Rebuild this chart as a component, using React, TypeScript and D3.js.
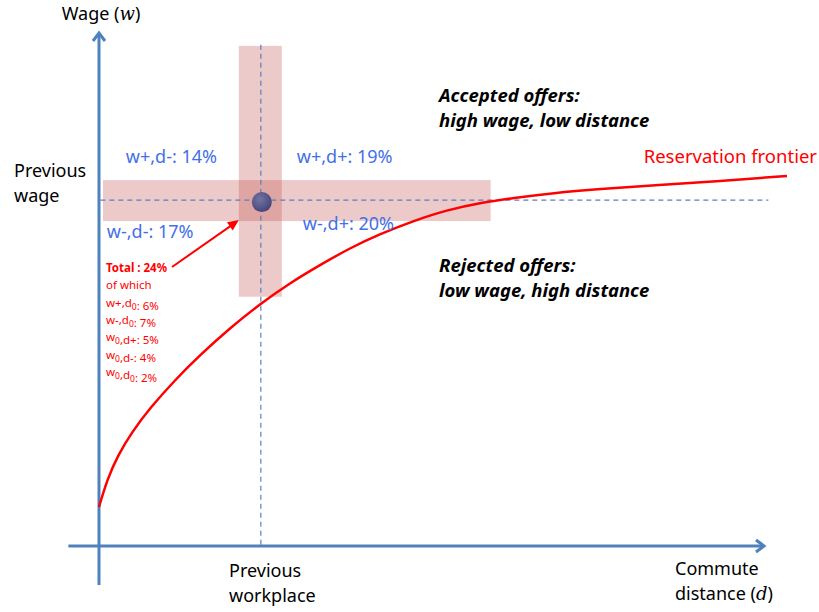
import React, { useRef, useEffect } from "react"
import * as d3 from "d3"

// Reservation frontier as (distance, wage) in 0..100 units
const frontierD = [0, 1.2, 2.85, 4.95, 7.66, 11.41, 15.17, 19.67, 24.17, 28.68, 33.18, 37.69, 42.19, 47.15, 52.25, 57.21, 62.16, 68.17, 75.23, 83.18, 93.24, 103.3]
const frontierW = [7.59, 12.84, 17.7, 22.18, 26.85, 32.3, 37.16, 42.41, 47.08, 51.17, 54.67, 57.98, 60.7, 63.23, 65.37, 66.73, 67.7, 68.68, 69.46, 70.14, 71.01, 71.98]

// Previous job position
const prevDistance = 24.3
const prevWage = 67.3

// Shares of offers around the previous job
const quadrantLabels = ["w+,d-: 14%", "w+,d+: 19%", "w-,d-: 17%", "w-,d+: 20%"]

// Breakdown of the "no change" offers: [w part, w subscript, d part, d subscript, share]
const breakdownTotal = "Total : 24%"
const breakdownRows: [string, string, string, string, string][] = [
  ["w+", "", "d", "0", ": 6%"],
  ["w-", "", "d", "0", ": 7%"],
  ["w", "0", "d+", "", ": 5%"],
  ["w", "0", "d-", "", ": 4%"],
  ["w", "0", "d", "0", ": 2%"],
]

const AXIS_BLUE = "#4f81bd"
const LABEL_BLUE = "#4470e6"
const RED = "#ff0000"
const FONT = "'Noto Sans', sans-serif"

const App: React.FC = () => {
  const svgRef = useRef<SVGSVGElement | null>(null)
  const width = 819
  const height = 612

  useEffect(() => {
    const svg = d3.select(svgRef.current)
    svg.selectAll("*").remove()

    const x = d3.scaleLinear().domain([0, 100]).range([99, 765])
    const y = d3.scaleLinear().domain([0, 100]).range([546, 32])

    const defs = svg.append("defs")
    const grad = defs.append("radialGradient").attr("id", "dotGrad")
      .attr("cx", "40%").attr("cy", "35%").attr("r", "65%")
    grad.append("stop").attr("offset", "0%").attr("stop-color", "#7474a4")
    grad.append("stop").attr("offset", "100%").attr("stop-color", "#46467a")

    // BANDS
    const bands = svg.append("g").attr("fill", "#c0504d").attr("fill-opacity", 0.3)
    bands.append("rect")
      .attr("x", x(prevDistance) - 22).attr("width", 43)
      .attr("y", y(97.3)).attr("height", y(48.5) - y(97.3))
    bands.append("rect")
      .attr("x", x(0.6)).attr("width", x(58.8) - x(0.6))
      .attr("y", y(prevWage) - 20).attr("height", 41)

    // DASHED GUIDES
    svg.append("line")
      .attr("x1", x(prevDistance)).attr("x2", x(prevDistance))
      .attr("y1", y(97.5)).attr("y2", y(0))
      .attr("stroke", "#5b7fc0").attr("stroke-width", 1.2).attr("stroke-dasharray", "5,4")
    svg.append("line")
      .attr("x1", x(0.2)).attr("x2", x(100.5))
      .attr("y1", y(prevWage)).attr("y2", y(prevWage))
      .attr("stroke", "#5b7fc0").attr("stroke-width", 1.2).attr("stroke-dasharray", "5,4")

    // AXES
    const axes = svg.append("g").attr("stroke", AXIS_BLUE).attr("stroke-width", 3).attr("fill", "none")
    axes.append("line").attr("x1", x(0)).attr("x2", x(0)).attr("y1", y(-7.6)).attr("y2", y(100) + 2)
    axes.append("polyline")
      .attr("points", `${x(0) - 6},${y(100) + 9} ${x(0)},${y(100) + 1} ${x(0) + 6},${y(100) + 9}`)
    axes.append("line").attr("x1", x(-4.6)).attr("x2", x(100) - 2).attr("y1", y(0)).attr("y2", y(0))
    axes.append("polyline")
      .attr("points", `${x(100) - 9},${y(0) - 6} ${x(100) - 1},${y(0)} ${x(100) - 9},${y(0) + 6}`)

    // FRONTIER
    const line = d3.line<number>()
      .x((_d, i) => x(frontierD[i]))
      .y((_d, i) => y(frontierW[i]))
      .curve(d3.curveBasis)
    svg.append("path")
      .datum(frontierD)
      .attr("d", line)
      .attr("fill", "none")
      .attr("stroke", RED)
      .attr("stroke-width", 2.5)

    // PREVIOUS JOB DOT
    svg.append("circle")
      .attr("cx", x(prevDistance) + 1).attr("cy", y(prevWage) + 2).attr("r", 10)
      .attr("fill", "url(#dotGrad)")

    // RED ARROW
    const ax1 = 172, ay1 = 267, ax2 = x(prevDistance) - 22, ay2 = y(prevWage) + 20
    svg.append("line")
      .attr("x1", ax1).attr("y1", ay1).attr("x2", ax2 - 2).attr("y2", ay2 + 1.5)
      .attr("stroke", RED).attr("stroke-width", 2)
    const ang = Math.atan2(ay2 - ay1, ax2 - ax1)
    const hl = 11, hw = 5
    const bx = ax2 - hl * Math.cos(ang), by = ay2 - hl * Math.sin(ang)
    svg.append("path")
      .attr("d", `M${ax2},${ay2} L${bx - hw * Math.sin(ang)},${by + hw * Math.cos(ang)} L${bx + hw * Math.sin(ang)},${by - hw * Math.cos(ang)} Z`)
      .attr("fill", RED)

    // QUADRANT LABELS
    const qPos = [
      [x(prevDistance) - 135, y(prevWage) - 37],
      [x(prevDistance) + 36, y(prevWage) - 37],
      [x(prevDistance) - 154, y(prevWage) + 38],
      [x(prevDistance) + 42, y(prevWage) + 30],
    ]
    svg.append("g")
      .selectAll("text")
      .data(quadrantLabels)
      .enter()
      .append("text")
      .attr("x", (_d, i) => qPos[i][0])
      .attr("y", (_d, i) => qPos[i][1])
      .attr("fill", LABEL_BLUE)
      .attr("font-family", FONT)
      .attr("font-size", 18)
      .text(d => d)

    // BREAKDOWN BLOCK
    const block = svg.append("g").attr("fill", RED).attr("font-family", FONT).attr("font-size", 11.5)
    block.append("text").attr("x", 106).attr("y", 272).attr("font-weight", "bold").text(breakdownTotal)
    block.append("text").attr("x", 106).attr("y", 289).text("of which")
    breakdownRows.forEach((r, i) => {
      const t = block.append("text").attr("x", 106).attr("y", 307 + i * 17.2)
      const part = (s: string, sub: string) => {
        t.append("tspan").text(s)
        if (sub) {
          t.append("tspan").attr("dy", 3).attr("font-size", 8.5).text(sub)
          t.append("tspan").attr("dy", -3).text("")
        }
      }
      part(r[0], r[1])
      t.append("tspan").text(",")
      part(r[2], r[3])
      t.append("tspan").text(r[4])
    })

    // REGION NOTES
    const notes = svg.append("g").attr("fill", "#000").attr("font-family", FONT)
      .attr("font-size", 18.5).attr("font-weight", "bold").attr("font-style", "italic")
    notes.append("text").attr("x", 439).attr("y", 102).text("Accepted offers:")
    notes.append("text").attr("x", 439).attr("y", 127).text("high wage, low distance")
    notes.append("text").attr("x", 439).attr("y", 272).text("Rejected offers:")
    notes.append("text").attr("x", 439).attr("y", 297).text("low wage, high distance")

    svg.append("text")
      .attr("x", 817).attr("y", 163).attr("text-anchor", "end")
      .attr("fill", RED).attr("font-family", FONT).attr("font-size", 18.5)
      .text("Reservation frontier")

    // AXIS TITLES
    const titles = svg.append("g").attr("fill", "#000").attr("font-family", FONT).attr("font-size", 18)
    const wage = titles.append("text").attr("x", x(0) + 2).attr("y", 20).attr("text-anchor", "middle")
    wage.append("tspan").text("Wage (")
    wage.append("tspan").attr("font-style", "italic").attr("font-family", "'DejaVu Serif', serif").text("w")
    wage.append("tspan").text(")")

    titles.append("text").attr("x", 14).attr("y", 177).text("Previous")
    titles.append("text").attr("x", 14).attr("y", 202).text("wage")

    titles.append("text").attr("x", 229).attr("y", 577).text("Previous")
    titles.append("text").attr("x", 229).attr("y", 602).text("workplace")

    titles.append("text").attr("x", 675).attr("y", 575).text("Commute")
    const dist = titles.append("text").attr("x", 675).attr("y", 600)
    dist.append("tspan").text("distance (")
    dist.append("tspan").attr("font-style", "italic").attr("font-family", "'DejaVu Serif', serif").text("d")
    dist.append("tspan").text(")")
  }, [])

  return (
    <svg ref={svgRef} width={width} height={height}
      style={{ position: "absolute", left: 0, top: 0, background: "#fff" }} />
  )
}

export default App
